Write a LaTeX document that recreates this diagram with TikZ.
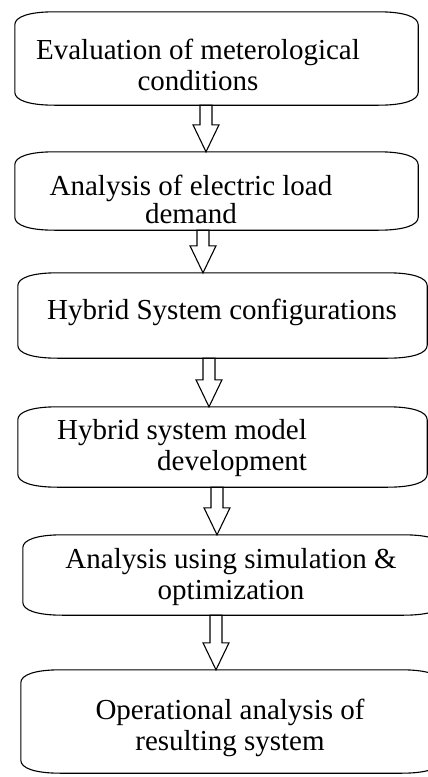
\documentclass[tikz,border=0pt]{standalone}
\usepackage{fontspec}
\setmainfont{Liberation Serif}
\usetikzlibrary{calc,positioning}
\tikzset{
    stage/.style={draw=none, inner sep=0pt},
    stagetext/.style={font=\fontsize{29}{31}\selectfont, align=center, inner sep=0pt},
    outline/.style={draw, line width=1.1pt},
    flow/.style={draw, line width=1.1pt},
}
% box with flared corners round a named node
\newcommand{\stageoutline}[1]{%
  \draw[outline] ($(#1.north west)+(0,13)$)
    .. controls ($(#1.north west)+(0,5)$) and ($(#1.north west)+(14,0)$) .. ($(#1.north west)+(40,0)$)
    -- ($(#1.north east)+(-40,0)$)
    .. controls ($(#1.north east)+(-14,0)$) and ($(#1.north east)+(0,5)$) .. ($(#1.north east)+(0,13)$)
    -- ($(#1.south east)+(0,-13)$)
    .. controls ($(#1.south east)+(0,-5)$) and ($(#1.south east)+(-14,0)$) .. ($(#1.south east)+(-40,0)$)
    -- ($(#1.south west)+(40,0)$)
    .. controls ($(#1.south west)+(14,0)$) and ($(#1.south west)+(0,-5)$) .. ($(#1.south west)+(0,-13)$)
    -- cycle;}
% hollow block arrow: from, to, x
\newcommand{\flowarrow}[3]{%
  \draw[flow] let \p1=(#1.south), \p2=(#2.north), \p3=(#3,0) in
    (\x3-6pt,\y1) -- (\x3+6pt,\y1) -- (\x3+6pt,\y2+27pt) -- (\x3+13pt,\y2+27pt)
    -- (\x3,\y2) -- (\x3-13pt,\y2+27pt) -- (\x3-6pt,\y2+27pt) -- cycle;}

\begin{document}
\begin{tikzpicture}[x=1pt, y=-1pt]
  \clip (0,0) rectangle (428,777);
  \useasboundingbox (0,0) rectangle (428,777);

  % boxes
  \node[stage, minimum width=403pt, minimum height=93pt] (b1) at (216.5,58.5) {};
  \node[stage, minimum width=403pt, minimum height=78pt] (b2) at (216.5,191) {};
  \node[stage, minimum width=409pt, minimum height=85pt] (b3) at (222.5,315.5) {};
  \node[stage, minimum width=409pt, minimum height=80pt] (b4) at (222.5,447) {};
  \node[stage, minimum width=420pt, minimum height=80pt] (b5) at (233,575) {};
  \node[stage, minimum width=420pt, minimum height=103pt] (b6) at (231,721.5) {};
  \foreach \b in {b1,b2,b3,b4,b5,b6}
    \stageoutline{\b};

  % texts
  \node[stagetext] (t1) at (198,65) {Evaluation of meterological\\conditions};
  \node[stagetext, font=\fontsize{29}{28}\selectfont] (t2) at (191,199) {Analysis of electric load\\demand};
  \node[stagetext] (t3) at (222,312) {Hybrid System configurations};
  \node[stagetext, align=left, anchor=west] (t4) at (57,448) {Hybrid system model\\\hspace*{100pt}development};
  \node[stagetext] (t5) at (231,577) {Analysis using simulation \&\\optimization};
  \node[stagetext] (t6) at (230,728) {Operational analysis of\\resulting system};

  % arrows
  \flowarrow{b1}{b2}{206}
  \flowarrow{b2}{b3}{203}
  \flowarrow{b3}{b4}{209}
  \flowarrow{b4}{b5}{217}
  \flowarrow{b5}{b6}{216}
\end{tikzpicture}
\end{document}
